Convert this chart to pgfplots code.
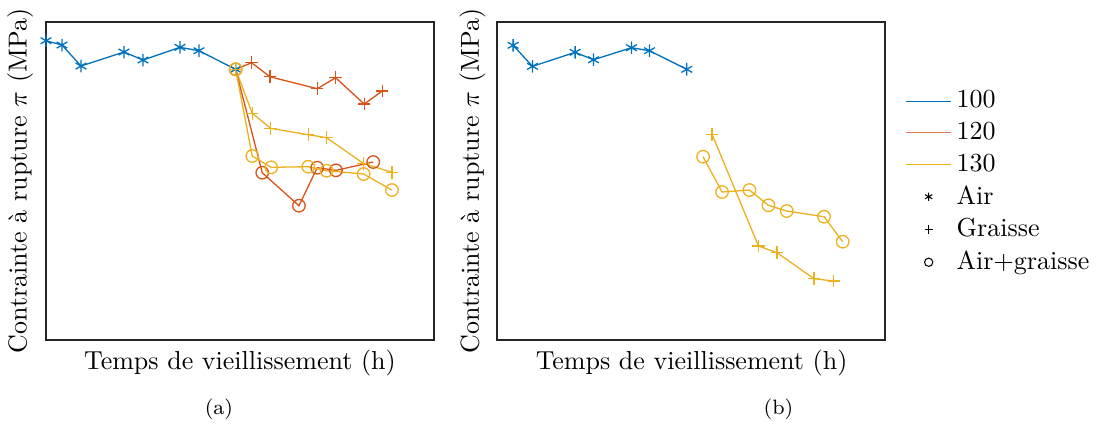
\documentclass[border=0pt]{standalone}
\usepackage{pgfplots}
\pgfplotsset{compat=1.18}
\definecolor{c1}{rgb}{0,0.447,0.741}
\definecolor{c2}{rgb}{0.85,0.325,0.098}
\definecolor{c3}{rgb}{0.929,0.694,0.125}
\begin{document}
\begin{tikzpicture}
\useasboundingbox (0,0) rectangle (422.7pt,162.7pt);
\pgfplotsset{
  myax/.style={scale only axis, width=149.2pt, height=122.3pt,
    xmin=0, xmax=388, ymin=0, ymax=318, xtick=\empty, ytick=\empty,
    clip=false, axis line style={black!85, line width=0.5pt},
    every axis plot/.append style={line width=0.5pt, mark size=2.4pt, mark options={solid}}},
}
% ---------- (a) ----------
\begin{axis}[myax, at={(17.69pt,31.92pt)}, anchor=south west]
\addplot[c1, mark=asterisk] coordinates {(0,299.3) (16,295) (35,274) (78,288) (97,280) (134,292.7) (153,289.3) (189.7,270.7)};
\addplot[c2, mark=+] coordinates {(189.7,270.7) (205.7,277.3) (224,263.3) (271.3,251.3) (289.7,262.3) (318.3,236) (336.3,249)};
\addplot[c3, mark=+] coordinates {(189.7,270.7) (206.3,226.7) (224.7,211.7) (262.3,205.3) (280.7,202.3) (317.3,176.7) (346,167.7)};
\addplot[c2, mark=o] coordinates {(189.7,270.7) (216.3,167.3) (253,134.3) (271.3,172.3) (290,169.7) (327.3,178)};
\addplot[c3, mark=o] coordinates {(189.7,270.7) (206.3,184) (225.3,172.7) (262.3,173.3) (280.7,169.3) (317.7,166) (346,150)};
\end{axis}
% ---------- (b) ----------
\begin{axis}[myax, at={(191.2pt,31.92pt)}, anchor=south west,
  legend style={at={(1,0.5)}, anchor=west, xshift=4.8pt, yshift=-0.4pt, draw=none, fill=none,
    font=\normalsize, row sep=0pt},
  legend cell align=left]
\addlegendimage{c1, line width=0.5pt}
\addlegendimage{c2!80, line width=0.5pt}
\addlegendimage{c3, line width=0.5pt}
\addlegendimage{black, only marks, mark=asterisk, mark size=1.6pt, line width=0.4pt}
\addlegendimage{black, only marks, mark=+, mark size=1.6pt, line width=0.4pt}
\addlegendimage{black, only marks, mark=o, mark size=1.6pt, line width=0.4pt}
\addplot[c1, mark=asterisk, forget plot] coordinates {(16,294.7) (35.4,273.7) (78,287.7) (96.4,280.3) (134.4,292.3) (152.4,289.3) (189.7,270.7)};
\addplot[c3, mark=+, forget plot] coordinates {(215,205.7) (261.4,94) (280,87.3) (317,61.3) (336.7,59)};
\addplot[c3, mark=o, forget plot] coordinates {(206,183.3) (225,148) (252.4,150) (271.4,134.7) (289.7,129) (327,123.3) (345.7,98.3)};
\legend{100,120,130,Air,Graisse,Air+graisse}
\end{axis}
% ---------- labels ----------
\node[rotate=90, anchor=center] at (7.7pt,93.1pt) {Contrainte à rupture $\pi$ (MPa)};
\node[rotate=90, anchor=center] at (181.7pt,93.1pt) {Contrainte à rupture $\pi$ (MPa)};
\node[anchor=base] at (92.3pt,20.4pt) {Temps de vieillissement (h)};
\node[anchor=base] at (266pt,20.4pt) {Temps de vieillissement (h)};
\node[anchor=base, font=\footnotesize] at (84.2pt,3.1pt) {(a)};
\node[anchor=base, font=\footnotesize] at (299.4pt,3.1pt) {(b)};
\end{tikzpicture}
\end{document}
